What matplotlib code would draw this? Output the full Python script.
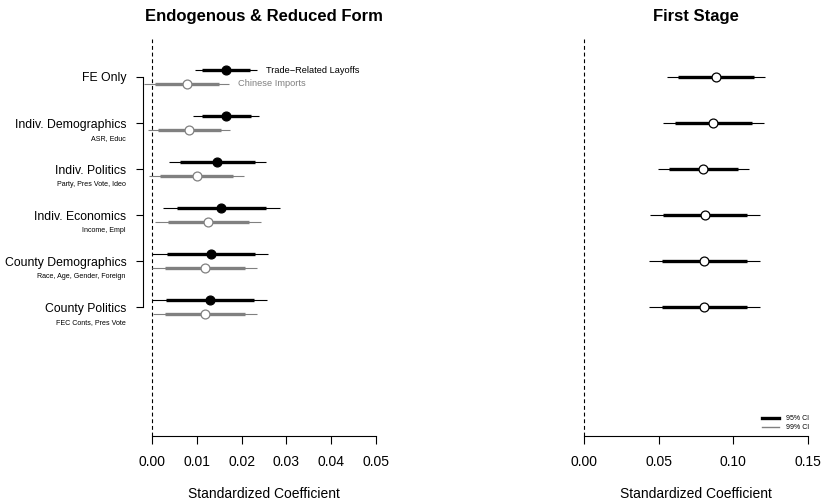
import matplotlib
matplotlib.use("Agg")
import matplotlib.pyplot as plt
import matplotlib.transforms as mtransforms
from matplotlib.lines import Line2D

plt.rcParams['font.family'] = ['Liberation Sans', 'DejaVu Sans']

# Modelle (von oben nach unten)
models = ["FE Only", "Indiv. Demographics", "Indiv. Politics", "Indiv. Economics",
          "County Demographics", "County Politics"]
controls = ["", "ASR, Educ", "Party, Pres Vote, Ideo", "Income, Empl",
            "Race, Age, Gender, Foreign", "FEC Conts, Pres Vote"]
rows = [6, 5, 4, 3, 2, 1]

# Trade-Related Layoffs
layoff_est = [0.0166, 0.0166, 0.0145, 0.0155, 0.0131, 0.0129]
layoff_lo95 = [0.0112, 0.0111, 0.0063, 0.0056, 0.0033, 0.0031]
layoff_hi95 = [0.0219, 0.0220, 0.0229, 0.0254, 0.0229, 0.0228]
layoff_lo99 = [0.0096, 0.0092, 0.0039, 0.0025, 0.0001, 0.0001]
layoff_hi99 = [0.0235, 0.0239, 0.0254, 0.0285, 0.0260, 0.0257]

# Chinese Imports
imports_est = [0.0078, 0.0082, 0.0100, 0.0125, 0.0118, 0.0118]
imports_lo95 = [0.0007, 0.0013, 0.0019, 0.0035, 0.0028, 0.0028]
imports_hi95 = [0.0150, 0.0153, 0.0181, 0.0216, 0.0207, 0.0208]
imports_lo99 = [-0.0018, -0.0008, -0.0006, 0.0007, 0.0000, 0.0002]
imports_hi99 = [0.0172, 0.0174, 0.0205, 0.0244, 0.0235, 0.0235]

# First Stage
fs_est = [0.0882, 0.0864, 0.0799, 0.0810, 0.0806, 0.0806]
fs_lo95 = [0.0632, 0.0607, 0.0567, 0.0531, 0.0525, 0.0525]
fs_hi95 = [0.1136, 0.1125, 0.1033, 0.1094, 0.1089, 0.1089]
fs_lo99 = [0.0554, 0.0527, 0.0498, 0.0442, 0.0435, 0.0435]
fs_hi99 = [0.1214, 0.1203, 0.1103, 0.1181, 0.1176, 0.1176]

left_ticks = [0.00, 0.01, 0.02, 0.03, 0.04, 0.05]
right_ticks = [0.00, 0.05, 0.10, 0.15]

grey = "#808080"
W, H = 825, 504
fig = plt.figure(figsize=(W / 100, H / 100), dpi=100)


def px_axes(x0, x1, y0, y1):
    return fig.add_axes([x0 / W, 1 - y1 / H, (x1 - x0) / W, (y1 - y0) / H])


ax1 = px_axes(143, 385, 39, 436)
ax2 = px_axes(575, 817, 39, 436)

off = 0.15


def draw_ci(ax, y, est, lo95, hi95, lo99, hi99, color, face):
    ax.plot([lo99, hi99], [y, y], color=color, lw=0.8, solid_capstyle="butt", zorder=2)
    ax.plot([lo95, hi95], [y, y], color=color, lw=2.4, solid_capstyle="butt", zorder=3)
    ax.plot([est], [y], "o", ms=6.4, mfc=face, mec=color, mew=0.9, zorder=4)


for i, r in enumerate(rows):
    draw_ci(ax1, r + off, layoff_est[i], layoff_lo95[i], layoff_hi95[i],
            layoff_lo99[i], layoff_hi99[i], "black", "black")
    draw_ci(ax1, r - off, imports_est[i], imports_lo95[i], imports_hi95[i],
            imports_lo99[i], imports_hi99[i], grey, "white")
    draw_ci(ax2, r, fs_est[i], fs_lo95[i], fs_hi95[i],
            fs_lo99[i], fs_hi99[i], "black", "white")

# Serienbeschriftung
ax1.annotate("Trade\u2212Related Layoffs", (layoff_hi99[0], rows[0] + off),
             xytext=(6.5, 0), textcoords="offset points", fontsize=6.7,
             va="center", ha="left", color="black")
ax1.annotate("Chinese Imports", (imports_hi99[0], rows[0] - off),
             xytext=(6.5, 0), textcoords="offset points", fontsize=6.7,
             va="center", ha="left", color=grey)

for ax, ticks, xl in [(ax1, left_ticks, (-0.002, 0.052)), (ax2, right_ticks, (-0.006, 0.156))]:
    ax.set_xlim(*xl)
    ax.set_ylim(-1.804, 6.826)
    ax.axvline(0, color="black", lw=0.8, ls=(0, (3.5, 2.5)), zorder=1)
    for s in ["top", "right"]:
        ax.spines[s].set_visible(False)
    ax.spines["bottom"].set_bounds(ticks[0], ticks[-1])
    ax.spines["bottom"].set_linewidth(0.8)
    ax.set_xticks(ticks)
    ax.set_xticklabels([f"{t:.2f}" for t in ticks])
    ax.tick_params(axis="x", length=6, width=0.8, labelsize=10, pad=8)
    ax.set_xlabel("Standardized Coefficient", fontsize=10, labelpad=13)

ax1.spines["left"].set_bounds(rows[-1], rows[0])
ax1.spines["left"].set_linewidth(0.8)
ax1.set_yticks(rows)
ax1.set_yticklabels(models)
ax1.tick_params(axis="y", length=5, width=0.8, labelsize=8.8, pad=7)

trans = mtransforms.blended_transform_factory(ax1.transAxes, ax1.transData)
for r, c in zip(rows, controls):
    if c:
        ax1.annotate(c, (0, r), xycoords=trans, xytext=(-12.5, -11),
                     textcoords="offset points", fontsize=5.1, ha="right", va="center")

ax2.spines["left"].set_visible(False)
ax2.set_yticks([])

handles = [Line2D([], [], color="black", lw=2.4), Line2D([], [], color=grey, lw=1.0)]
ax2.legend(handles, ["95% CI", "99% CI"], loc="upper left", bbox_to_anchor=(0.773, 0.052),
           frameon=False, fontsize=5, handlelength=2.45, handletextpad=1.0,
           labelspacing=0.3, borderpad=0, borderaxespad=0)

fig.text(264 / W, 1 - 16 / H, "Endogenous & Reduced Form", fontsize=12,
         fontweight="bold", ha="center", va="center")
fig.text(696 / W, 1 - 16 / H, "First Stage", fontsize=12,
         fontweight="bold", ha="center", va="center")

fig.savefig("out.png", dpi=100)
